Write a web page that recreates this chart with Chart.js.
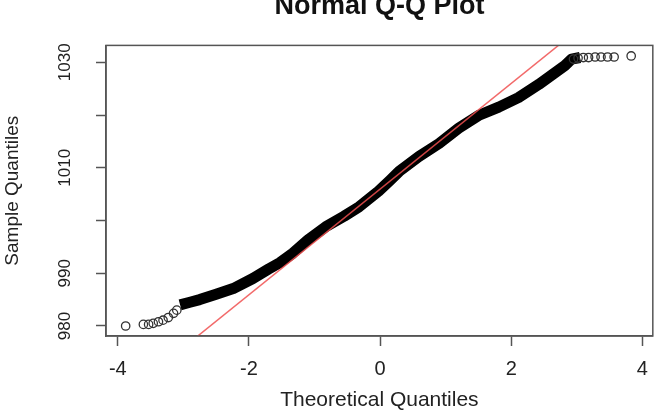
<!DOCTYPE html>
<html>
<head>
<meta charset="utf-8">
<script src="https://cdn.jsdelivr.net/npm/chart.js@4/dist/chart.umd.min.js"></script>
<style>
  body { margin: 0; background: #fff; overflow: hidden; }
  .wrap { position: absolute; left: 0; top: -10px; width: 659px; height: 426px; }
</style>
</head>
<body>
<div class="wrap"><canvas id="qq"></canvas></div>
<script>
// dense middle of the sample (theoretical, sample)
const bandX = [-3.05, -2.90, -2.75, -2.50, -2.24, -1.94, -1.70, -1.53, -1.33, -1.10, -0.83, -0.55, -0.32, -0.02, 0.15, 0.29, 0.59, 0.90, 1.20, 1.50, 1.81, 2.11, 2.42, 2.62, 2.82, 2.92, 3.05];
const bandY = [984.0, 984.5, 985.0, 986.0, 987.1, 989.0, 990.8, 992.0, 993.8, 996.3, 998.8, 1000.8, 1002.6, 1005.6, 1007.6, 1009.3, 1012.1, 1014.6, 1017.5, 1019.9, 1021.5, 1023.3, 1025.8, 1027.6, 1029.4, 1030.6, 1030.9];

// single points in the tails
const lowTailX = [-3.88, -3.61, -3.53, -3.46, -3.38, -3.31, -3.23, -3.15, -3.10];
const lowTailY = [980.0, 980.3, 980.3, 980.5, 980.8, 981.1, 981.6, 982.4, 983.0];
const highTailX = [2.95, 3.02, 3.10, 3.18, 3.28, 3.37, 3.47, 3.57, 3.83];
const highTailY = [1030.6, 1030.8, 1030.9, 1030.9, 1031.0, 1031.0, 1031.0, 1031.0, 1031.2];

// qq reference line
const refX = [-3, 3];
const refY = [975.9, 1036.0];

const yTickLabels = [980, 990, 1010, 1030];
const xTickStep = 2;

const toPts = (xs, ys) => xs.map((x, i) => ({ x: x, y: ys[i] }));

const boxPlugin = {
  id: 'box',
  afterDraw(chart) {
    const a = chart.chartArea;
    const ctx = chart.ctx;
    ctx.save();
    ctx.strokeStyle = '#555';
    ctx.lineWidth = 1.5;
    ctx.strokeRect(a.left, a.top, a.right - a.left, a.bottom - a.top);
    ctx.restore();
  }
};

const txt = '#222';
const fam = "'Liberation Sans', Arial, sans-serif";

new Chart(document.getElementById('qq'), {
  type: 'scatter',
  data: {
    datasets: [
      {
        label: 'qqline',
        data: toPts(refX, refY),
        showLine: true,
        borderColor: 'rgba(240, 80, 80, 0.85)',
        borderWidth: 1.5,
        pointRadius: 0,
        order: 0
      },
      {
        label: 'tails',
        data: toPts(lowTailX, lowTailY).concat(toPts(highTailX, highTailY)),
        pointRadius: 4.2,
        pointBorderWidth: 1.3,
        pointBorderColor: '#333',
        pointBackgroundColor: 'rgba(0,0,0,0)',
        order: 1
      },
      {
        label: 'sample',
        data: toPts(bandX, bandY),
        showLine: true,
        borderColor: '#000',
        borderWidth: 11,
        borderJoinStyle: 'round',
        pointRadius: 0,
        order: 2
      }
    ]
  },
  options: {
    responsive: true,
    maintainAspectRatio: false,
    animation: false,
    layout: { padding: { left: 0, right: 5, top: 0, bottom: 0 } },
    plugins: {
      legend: { display: false },
      tooltip: { enabled: false },
      title: {
        display: true,
        text: 'Normal Q-Q Plot',
        color: '#111',
        fullSize: false,
        font: { family: fam, size: 27, weight: 'bold' },
        padding: { top: 0, bottom: 23 }
      }
    },
    scales: {
      x: {
        type: 'linear',
        min: -4.18,
        max: 4.16,
        afterFit: (s) => { s.height = 80; },
        border: { display: true, color: '#555', width: 1.5 },
        grid: { drawOnChartArea: false, drawTicks: true, tickLength: 10, tickColor: '#555', tickWidth: 1.5 },
        ticks: {
          stepSize: xTickStep,
          includeBounds: false,
          padding: 11,
          color: txt,
          font: { family: fam, size: 20 },
          maxRotation: 0
        },
        title: {
          display: true,
          text: 'Theoretical Quantiles',
          color: txt,
          font: { family: fam, size: 21 },
          padding: { top: 0, bottom: 3 }
        }
      },
      y: {
        type: 'linear',
        min: 978.1,
        max: 1033.2,
        afterFit: (s) => { s.width = 106; },
        border: { display: true, color: '#555', width: 1.5 },
        grid: { drawOnChartArea: false, drawTicks: true, tickLength: 10, tickColor: '#555', tickWidth: 1.5 },
        ticks: {
          stepSize: 10,
          includeBounds: false,
          minRotation: 90,
          maxRotation: 90,
          crossAlign: 'center',
          padding: 12,
          color: txt,
          font: { family: fam, size: 17 },
          callback: (v) => yTickLabels.includes(v) ? String(v) : ''
        },
        title: {
          display: true,
          text: 'Sample Quantiles',
          color: txt,
          font: { family: fam, size: 19 },
          padding: { top: 1, bottom: 0 }
        }
      }
    }
  },
  plugins: [boxPlugin]
});
</script>
</body>
</html>
